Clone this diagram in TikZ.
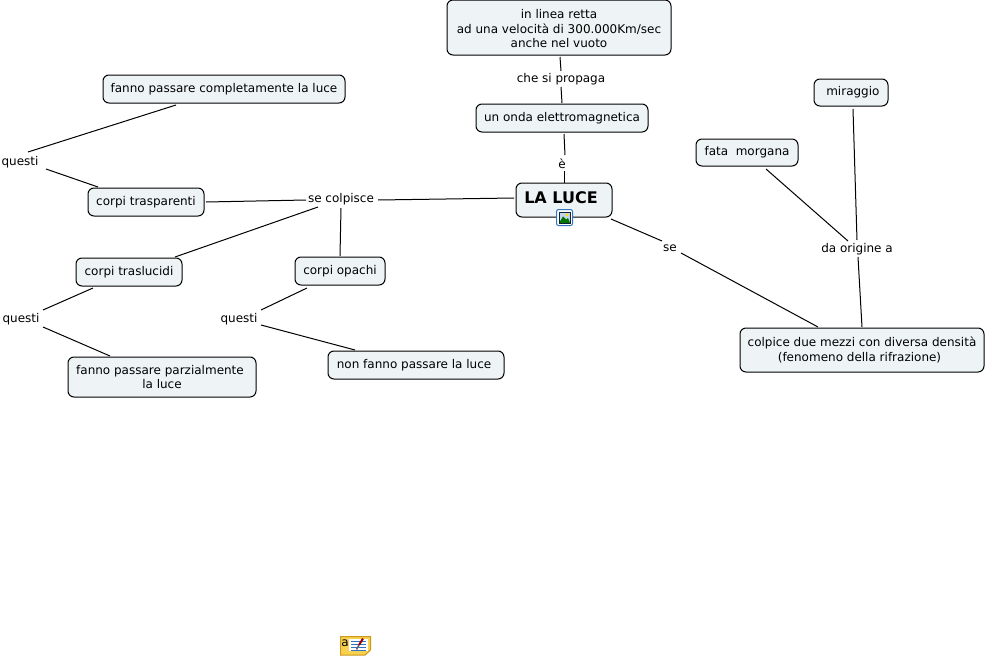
\documentclass[tikz,border=0pt]{standalone}
\usepackage{fontspec}
\setmainfont{DejaVu Sans}
\newlength{\du}
\setlength{\du}{0.75pt}
\definecolor{conceptfill}{rgb}{0.933, 0.957, 0.965}
\definecolor{notegold}{rgb}{0.976, 0.820, 0.318}
\definecolor{noteedge}{rgb}{0.800, 0.600, 0.100}
\definecolor{iconblue}{rgb}{0.200, 0.450, 0.750}
\tikzset{
  concept/.style={draw=black, fill=conceptfill, rounded corners=6\du, line width=1\du, align=center,
    inner sep=0pt, font=\fontsize{9}{10.9}\selectfont},
  linklabel/.style={inner sep=1\du, font=\fontsize{9}{10.9}\selectfont},
  linkline/.style={draw=black, line width=1\du},
}
\begin{document}
\begin{tikzpicture}[x=1\du, y=-1\du]
\useasboundingbox (0,0) rectangle (986,657);
% concepts
\node[concept, minimum width=224\du, minimum height=55\du] (retta) at (559,27.5) {\rule{0pt}{9pt}in linea retta\\ad una velocità di 300.000Km/sec\\anche nel vuoto};
\node[concept, minimum width=172\du, minimum height=28\du] (onda) at (562,118) {un onda elettromagnetica};
\node[concept, minimum width=96\du, minimum height=34\du] (luce) at (564,200) {};
\node[anchor=west, inner sep=0pt, font=\fontsize{12}{14}\selectfont\bfseries] (lucetext) at (524,198) {LA LUCE};
\node[concept, minimum width=74\du, minimum height=27\du] (miraggio) at (851,92.5) {\ miraggio};
\node[concept, minimum width=102\du, minimum height=27\du] (fata) at (747,152.5) {fata\ \ morgana};
\node[concept, minimum width=244\du, minimum height=44\du] (densita) at (862,350) {colpice due mezzi con diversa densità\\(fenomeno della rifrazione)\hspace*{5\du}\mbox{}};
\node[concept, minimum width=242\du, minimum height=28\du] (completa) at (224,89) {fanno passare completamente la luce};
\node[concept, minimum width=116\du, minimum height=28\du] (trasparenti) at (146,202) {corpi trasparenti};
\node[concept, minimum width=106\du, minimum height=28\du] (traslucidi) at (129,272) {corpi traslucidi};
\node[concept, minimum width=90\du, minimum height=28\du] (opachi) at (340,271) {corpi opachi};
\node[concept, minimum width=188\du, minimum height=40\du] (parziale) at (162,377) {fanno passare parzialmente\hspace*{4\du}\mbox{}\\la luce};
\node[concept, minimum width=176\du, minimum height=28\du] (nonfanno) at (416,365) {non fanno passare la luce\ };
% link labels
\node[linklabel] (propaga) at (561,79) {che si propaga};
\node[linklabel] (e) at (562,164) {è};
\node[linklabel] (se) at (670,248) {se};
\node[linklabel] (origine) at (857,249) {da origine a};
\node[linklabel] (colpisce) at (341,199) {se colpisce};
\node[linklabel] (questia) at (20,162) {questi};
\node[linklabel] (questib) at (21,319) {questi};
\node[linklabel] (questic) at (239,319) {questi};
% connectors
\draw[linkline] ([shift={(1,29.5)}]retta.center) -- ([shift={(0,-8)}]propaga.center);
\draw[linkline] ([shift={(0,8)}]propaga.center) -- ([shift={(0,-15)}]onda.center);
\draw[linkline] ([shift={(2,16)}]onda.center) -- ([shift={(3,-9)}]e.center);
\draw[linkline] ([shift={(2,7)}]e.center) -- ([shift={(0,-17)}]luce.center);
\draw[linkline] ([shift={(47,19)}]luce.center) -- ([shift={(-8,-7)}]se.center);
\draw[linkline] ([shift={(11,5)}]se.center) -- ([shift={(-44,-23)}]densita.center);
\draw[linkline] ([shift={(37,1)}]colpisce.center) -- ([shift={(-50,-2)}]luce.center);
\draw[linkline] ([shift={(60,0)}]trasparenti.center) -- ([shift={(-35,1)}]colpisce.center);
\draw[linkline] ([shift={(46,-15)}]traslucidi.center) -- ([shift={(-23,8)}]colpisce.center);
\draw[linkline] ([shift={(0,9)}]colpisce.center) -- ([shift={(0,-15)}]opachi.center);
\draw[linkline] ([shift={(-33,17)}]opachi.center) -- ([shift={(22,-9)}]questic.center);
\draw[linkline] ([shift={(22,6)}]questic.center) -- ([shift={(-61,-15)}]nonfanno.center);
\draw[linkline] ([shift={(-36,16)}]traslucidi.center) -- ([shift={(22,-9)}]questib.center);
\draw[linkline] ([shift={(22,8)}]questib.center) -- ([shift={(-52,-21)}]parziale.center);
\draw[linkline] ([shift={(-48,16)}]completa.center) -- ([shift={(8,-10)}]questia.center);
\draw[linkline] ([shift={(26,7)}]questia.center) -- ([shift={(-48,-15)}]trasparenti.center);
\draw[linkline] ([shift={(2,16.5)}]miraggio.center) -- ([shift={(0,-9)}]origine.center);
\draw[linkline] ([shift={(19,16.5)}]fata.center) -- ([shift={(-9,-8)}]origine.center);
\draw[linkline] ([shift={(1,8)}]origine.center) -- ([shift={(0,-23)}]densita.center);
% image icon on the main concept
\draw[iconblue, fill=white, line width=1\du, rounded corners=2\du] (556.5,209.5) rectangle (572.5,225.5);
\fill[white!70!iconblue] (559,212) rectangle (570,223);
\fill[yellow!80!orange] (567,215) circle (1.7);
\fill[green!45!black] (559,223) -- (563,216.5) -- (566,219.5) -- (568,218) -- (570,223) -- cycle;
\draw[black!70!iconblue, line width=0.7\du] (559,212) rectangle (570,223);
% note icon at the bottom
\draw[noteedge, fill=notegold, line width=1\du] (340.5,636.5) -- (370.5,636.5) -- (370.5,650) -- (365,655) -- (340.5,655) -- cycle;
\fill[white] (349,638.5) rectangle (368,651);
\node[inner sep=0pt, font=\fontsize{9}{9}\selectfont] (notea) at (345,643.5) {a};
\foreach \ny in {641,644,647,650}
  \draw[iconblue, line width=1\du] (351,\ny) -- (366,\ny);
\draw[red!60!black, line width=2\du] (363,638.5) -- (359,645);
\draw[black!60, line width=1.5\du] (359,645) -- (356.5,649.5);
\end{tikzpicture}
\end{document}
